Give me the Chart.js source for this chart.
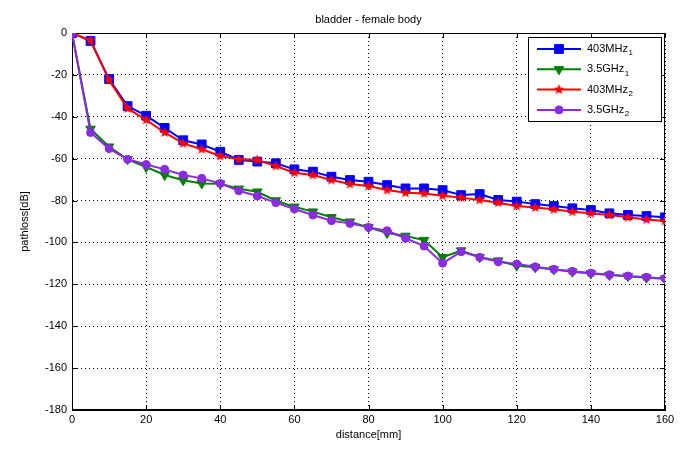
<!DOCTYPE html>
<html lang="en">
<head>
    <meta charset="UTF-8">
    <title>bladder - female body</title>
    <script src="https://cdn.jsdelivr.net/npm/chart.js"></script>
    <style>
        body { margin: 0; background: #fff; }
        #wrap { width: 684px; height: 454px; }
    </style>
</head>
<body>

<div id="wrap">
    <canvas id="pathlossChart" width="684" height="454"></canvas>
</div>

<script>
    // distance in mm, path loss in dB
    const distance = [0, 5, 10, 15, 20, 25, 30, 35, 40, 45, 50, 55, 60, 65, 70, 75, 80,
        85, 90, 95, 100, 105, 110, 115, 120, 125, 130, 135, 140, 145, 150, 155, 160];

    const mhz403_1 = [0, -3.8, -22, -34.9, -39.5, -45.3, -51.2, -53.2, -56.7, -60.6,
        -61.4, -62.2, -65.1, -66.2, -68.6, -70.2, -71, -72.6, -74.2, -74.2,
        -75, -77.4, -76.9, -79.7, -80.5, -81.7, -82.6, -83.7, -84.5, -86.1,
        -86.9, -87.4, -88];
    const ghz35_1 = [0, -45.8, -54.3, -60.3, -64, -67.8, -70.3, -71.8, -72, -74.4,
        -75.8, -80, -83, -85.3, -88, -90.1, -92.8, -95.5, -96.9, -98.9,
        -107.1, -103.9, -107.1, -108.7, -111.1, -111.9, -112.9, -114, -114.8, -115.6,
        -116.1, -116.8, -117.3];
    const mhz403_2 = [0, -3.5, -22.5, -36, -41.5, -47.5, -52.7, -55.5, -58.7, -60.3,
        -60.6, -63.5, -66.7, -67.8, -70.2, -72.1, -73.1, -75, -76.3, -76.6,
        -77.7, -78.6, -79.7, -81, -82.6, -83.3, -84.2, -85.3, -86.1, -86.9,
        -88, -89, -89.8];
    const ghz35_2 = [0, -47.5, -55.2, -60.3, -62.8, -65.1, -67.8, -69.4, -71.8, -75.3,
        -77.8, -81, -84, -86.9, -89.6, -90.9, -92.8, -94.4, -98, -101.7,
        -109.9, -104.4, -107.1, -109.2, -110.3, -111.6, -112.8, -113.8, -114.6, -115.4,
        -116, -116.6, -117.2];

    const xTicks = [0, 20, 40, 60, 80, 100, 120, 140, 160];
    const yTicks = [0, -20, -40, -60, -80, -100, -120, -140, -160, -180];

    const FONT = '"Liberation Sans", Arial, sans-serif';
    Chart.defaults.font.family = FONT;
    Chart.defaults.font.size = 11;
    Chart.defaults.color = '#000';

    // filled five-point star for the red series
    function makeStar(color, r) {
        const c = document.createElement('canvas');
        c.width = c.height = Math.ceil(r * 2 + 2);
        const g = c.getContext('2d');
        const cx = c.width / 2, cy = c.height / 2;
        g.beginPath();
        for (let i = 0; i < 10; i++) {
            const rad = i % 2 === 0 ? r : r * 0.45;
            const a = -Math.PI / 2 + i * Math.PI / 5;
            g.lineTo(cx + rad * Math.cos(a), cy + rad * Math.sin(a));
        }
        g.closePath();
        g.fillStyle = color;
        g.fill();
        return c;
    }
    const starImg = makeStar('#ff0000', 5.5);

    function toPoints(ys) {
        return distance.map((d, i) => ({ x: d, y: ys[i] }));
    }

    const series = [
        { label: '403MHz', sub: '1', data: mhz403_1, color: '#0000ff', style: 'rect', radius: 6.2, rotation: 0, order: 4 },
        { label: '3.5GHz', sub: '1', data: ghz35_1, color: '#008000', style: 'triangle', radius: 5.5, rotation: 180, order: 3 },
        { label: '403MHz', sub: '2', data: mhz403_2, color: '#ff0000', style: starImg, radius: 5.5, rotation: 0, order: 2 },
        { label: '3.5GHz', sub: '2', data: ghz35_2, color: '#8a2be2', style: 'circle', radius: 4, rotation: 0, order: 1 }
    ];

    // title, box, inward ticks and the legend, MATLAB style
    const matlabLook = {
        id: 'matlabLook',
        beforeDatasetsDraw(chart) {
            const { ctx, chartArea: a, scales } = chart;
            ctx.save();
            ctx.strokeStyle = '#000';
            ctx.lineWidth = 1;
            ctx.setLineDash([]);
            ctx.strokeRect(Math.round(a.left) + 0.5, Math.round(a.top) + 0.5,
                Math.round(a.right - a.left) - 1, Math.round(a.bottom - a.top) - 1);
            ctx.beginPath();
            xTicks.forEach(v => {
                const px = Math.round(scales.x.getPixelForValue(v)) + 0.5;
                ctx.moveTo(px, a.bottom); ctx.lineTo(px, a.bottom - 5);
                ctx.moveTo(px, a.top); ctx.lineTo(px, a.top + 5);
            });
            yTicks.forEach(v => {
                const py = Math.round(scales.y.getPixelForValue(v)) + 0.5;
                ctx.moveTo(a.left, py); ctx.lineTo(a.left + 5, py);
                ctx.moveTo(a.right, py); ctx.lineTo(a.right - 5, py);
            });
            ctx.stroke();
            ctx.restore();
        },
        afterDraw(chart) {
            const { ctx, chartArea: a } = chart;
            ctx.save();
            ctx.fillStyle = '#000';
            ctx.font = '11px ' + FONT;
            ctx.textAlign = 'center';
            ctx.textBaseline = 'middle';
            ctx.fillText('bladder - female body', (a.left + a.right) / 2, 20);

            // legend box
            const bx = 528, by = 37, bw = 133, bh = 84;
            ctx.fillStyle = '#fff';
            ctx.fillRect(bx, by, bw, bh);
            ctx.strokeStyle = '#000';
            ctx.lineWidth = 1;
            ctx.strokeRect(bx + 0.5, by + 0.5, bw, bh);

            series.forEach((s, i) => {
                const y = 49 + i * 20.3;
                ctx.strokeStyle = s.color;
                ctx.lineWidth = 2;
                ctx.beginPath();
                ctx.moveTo(537, y);
                ctx.lineTo(581, y);
                ctx.stroke();
                ctx.fillStyle = s.color;
                ctx.lineWidth = 1;
                Chart.helpers.drawPoint(ctx, {
                    pointStyle: s.style, radius: s.radius, rotation: s.rotation, borderWidth: 1
                }, 559, y);
                ctx.fillStyle = '#000';
                ctx.textAlign = 'left';
                ctx.font = '11px ' + FONT;
                ctx.fillText(s.label, 587, y);
                const w = ctx.measureText(s.label).width;
                ctx.font = '8px ' + FONT;
                ctx.fillText(s.sub, 587 + w + 0.5, y + 4);
            });
            ctx.restore();
        }
    };

    const ctx = document.getElementById('pathlossChart').getContext('2d');
    const chart = new Chart(ctx, {
        type: 'line',
        data: {
            datasets: series.map(s => ({
                label: s.label + s.sub,
                data: toPoints(s.data),
                borderColor: s.color,
                backgroundColor: s.color,
                pointBackgroundColor: s.color,
                pointBorderColor: s.color,
                pointStyle: s.style,
                pointRadius: s.radius,
                pointRotation: s.rotation,
                pointBorderWidth: 1,
                borderWidth: 2,
                tension: 0,
                fill: false,
                order: s.order
            }))
        },
        options: {
            responsive: false,
            animation: false,
            devicePixelRatio: 1,
            layout: { padding: { top: 33, right: 19, left: 0, bottom: 0 } },
            plugins: {
                legend: { display: false },
                tooltip: { enabled: false }
            },
            scales: {
                x: {
                    type: 'linear',
                    min: 0,
                    max: 160,
                    afterFit: s => { s.height = 44; },
                    afterBuildTicks: s => { s.ticks = xTicks.map(v => ({ value: v })); },
                    ticks: { padding: 3, maxRotation: 0 },
                    grid: { color: '#000', lineWidth: 1, drawTicks: false },
                    border: { display: true, color: '#000', dash: [1, 3] },
                    title: { display: true, text: 'distance[mm]', padding: { top: 0, bottom: 12 } }
                },
                y: {
                    type: 'linear',
                    min: -180,
                    max: 0,
                    afterFit: s => { s.width = 72; },
                    afterBuildTicks: s => { s.ticks = yTicks.map(v => ({ value: v })); },
                    ticks: { padding: 5 },
                    grid: { color: '#000', lineWidth: 1, drawTicks: false },
                    border: { display: true, color: '#000', dash: [1, 3] },
                    title: { display: true, text: 'pathloss[dB]', padding: { top: 18, bottom: 0 } }
                }
            }
        },
        plugins: [matlabLook]
    });
</script>

</body>
</html>
